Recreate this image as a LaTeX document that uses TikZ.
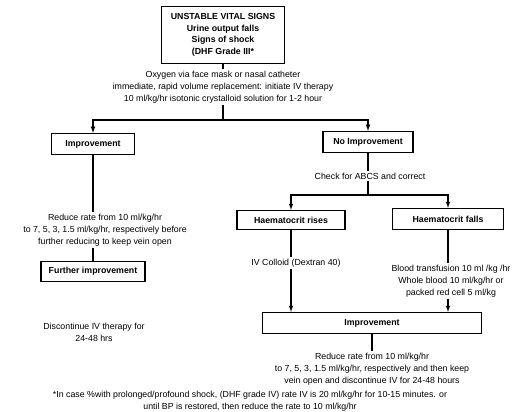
\documentclass[tikz,border=0pt]{standalone}
\usepackage{fontspec}
\setmainfont{Liberation Sans}
\usepackage{tikz}
\usetikzlibrary{positioning}
\usepgflibrary{arrows}

\begin{document}
\begin{tikzpicture}[x=1pt,y=-1pt,->,draw=black,line width=1.1pt]
		\tikzset{>=latex}
		\tikzstyle{stage}=[rectangle, draw=black, line width=1.3pt, minimum height=21pt, inner sep=2pt, align=center, font=\fontsize{8.8}{11.5}\selectfont\bfseries]
		\tikzstyle{note}=[align=center, inner sep=1pt, font=\fontsize{8.8}{12}\selectfont]
		\useasboundingbox (0,0) rectangle (520,412);
		\node[stage, minimum width=123pt, minimum height=57pt] (vital) at (223,35) {UNSTABLE VITAL SIGNS\\Urine output falls\\Signs of shock\\(DHF Grade III*};
		\node[note] (oxy) at (223,87) {Oxygen via face mask or nasal catheter\\immediate, rapid volume replacement: initiate IV therapy\\10 ml/kg/hr isotonic crystalloid solution for 1-2 hour};
		\coordinate (fork) at (223,120);
		\node[stage, minimum width=83pt] (imp) at (93,144) {Improvement};
		\node[stage, minimum width=90pt] (noimp) at (368,142) {No Improvement};
		\node[note] (red1) at (105,230) {Reduce rate from 10 ml/kg/hr\\to 7, 5, 3, 1.5 ml/kg/hr, respectively before\\further reducing to keep vein open};
		\node[stage, minimum width=104pt, minimum height=20pt, below=13pt of red1.south -| imp] (further) {Further improvement};
		\node[note] (stop) at (94,332) {Discontinue IV therapy for\\24-48 hrs};
		\node[note] (abcs) at (370,176) {Check for ABCS and correct};
		\coordinate (fork2) at (368,195);
		\node[stage, minimum width=108pt, minimum height=19pt] (rises) at (291,220) {Haematocrit rises};
		\node[stage, minimum width=111pt] (falls) at (448,219) {Haematocrit falls};
		\node[note] (colloid) at (296,263) {IV Colloid (Dextran 40)};
		\node[note] (blood) at (451,281) {Blood transfusion 10 ml /kg /hr\\Whole blood 10 ml/kg/hr or\\packed red cell 5 ml/kg};
		\node[stage, minimum width=219pt] (imp2) at (372,323) {Improvement};
		\node[note] (red2) at (372,369) {Reduce rate from 10 ml/kg/hr\\to 7, 5, 3, 1.5 ml/kg/hr, respectively and then keep\\vein open and discontinue IV for 24-48 hours};
		\node[note] (foot) at (250,401) {*In case \%with prolonged/profound shock, (DHF grade IV) rate IV is 20 ml/kg/hr for 10-15 minutes. or\\until BP is restored, then reduce the rate to 10 ml/kg/hr};
		% top part
		\path (vital) edge[-] (oxy);
		\path (oxy) edge[-] (fork);
		\draw (fork) -| (imp);
		\draw (fork) -| (noimp);
		% left branch
		\path (imp) edge[-] (imp |- red1.north);
		\path (imp |- red1.south) edge[-] (further);
		% right branch
		\path (noimp) edge[-] (noimp |- abcs.north);
		\path (noimp |- abcs.south) edge[-] (fork2);
		\draw (fork2) -| (rises);
		\draw (fork2) -| (falls);
		\path (rises) edge[-] (rises |- colloid.north);
		\path (rises |- colloid.south) edge (rises |- imp2.north);
		\path (falls) edge[-] (falls |- blood.north);
		\path (falls |- blood.south) edge (falls |- imp2.north);
		\path (imp2) edge[-] (red2);
	\end{tikzpicture}
\end{document}
